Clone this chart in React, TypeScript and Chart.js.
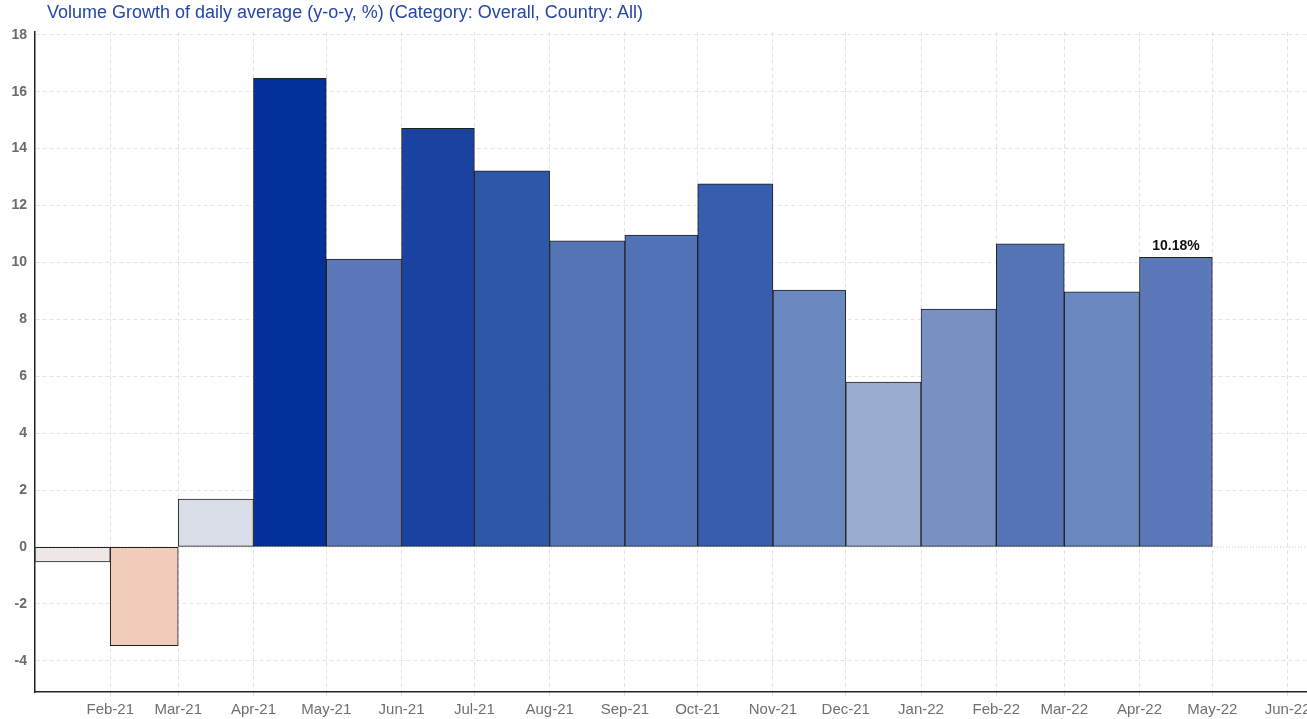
import React, { useEffect, useRef } from 'react';
import { Chart, registerables } from 'chart.js';

Chart.register(...registerables);

const TITLE = 'Volume Growth of daily average (y-o-y, %) (Category: Overall, Country: All)';

// Monthly bars (each bar spans its whole month)
const months = [
  '2021-01', '2021-02', '2021-03', '2021-04', '2021-05', '2021-06', '2021-07', '2021-08',
  '2021-09', '2021-10', '2021-11', '2021-12', '2022-01', '2022-02', '2022-03', '2022-04',
];
const growth = [
  -0.53, -3.47, 1.68, 16.47, 10.12, 14.71, 13.22, 10.76,
  10.96, 12.76, 9.03, 5.79, 8.36, 10.65, 8.97, 10.18,
];
const barColors = [
  '#efe7e6', '#f2ccba', '#d8dde7', '#023199', '#5b79b8', '#1a42a0', '#2e56a9', '#5574b6',
  '#5272b7', '#375dac', '#6a88c0', '#9aadd0', '#7891c2', '#5574b6', '#6a88c0', '#5b79b8',
];

const xTickLabels = [
  'Feb-21', 'Mar-21', 'Apr-21', 'May-21', 'Jun-21', 'Jul-21', 'Aug-21', 'Sep-21', 'Oct-21',
  'Nov-21', 'Dec-21', 'Jan-22', 'Feb-22', 'Mar-22', 'Apr-22', 'May-22', 'Jun-22',
];
const yTicks = [-4, -2, 0, 2, 4, 6, 8, 10, 12, 14, 16, 18];

const Y_MIN = -5.1;
const Y_MAX = 18.1;
const X_START = '2021-01-01';
const X_END = '2022-06-09';

const FONT = "'Liberation Sans', Arial, sans-serif";
const GRID = '#e3e3e3';

const MS_DAY = 86400000;
const ORIGIN = Date.UTC(2021, 0, 1);
const MON = ['Jan', 'Feb', 'Mar', 'Apr', 'May', 'Jun', 'Jul', 'Aug', 'Sep', 'Oct', 'Nov', 'Dec'];

function dayOf(y: number, m: number, d = 1) {
  return (Date.UTC(y, m - 1, d) - ORIGIN) / MS_DAY;
}
function dateDay(s: string) {
  const [y, m, d] = s.split('-').map(Number);
  return dayOf(y, m, d);
}
function monthStart(ym: string) {
  const [y, m] = ym.split('-').map(Number);
  return dayOf(y, m);
}
function monthEnd(ym: string) {
  const [y, m] = ym.split('-').map(Number);
  return dayOf(y, m + 1);
}
function labelDay(lbl: string) {
  const [mon, yy] = lbl.split('-');
  return dayOf(2000 + Number(yy), MON.indexOf(mon) + 1);
}

const X_MIN = dateDay(X_START);
const X_MAX = dateDay(X_END);

const valueLabelPlugin = {
  id: 'valueLabel',
  afterDatasetsDraw(chart: any) {
    const i = growth.length - 1;
    const meta = chart.getDatasetMeta(i);
    const el = meta && meta.data && meta.data[0];
    if (!el) return;
    const ctx = chart.ctx;
    ctx.save();
    ctx.font = `bold 14px ${FONT}`;
    ctx.fillStyle = '#111111';
    ctx.textAlign = 'center';
    ctx.textBaseline = 'middle';
    ctx.fillText(growth[i].toFixed(2) + '%', el.x, el.y - 11);
    ctx.restore();
  },
};

export default function App() {
  const canvasRef = useRef<HTMLCanvasElement | null>(null);

  useEffect(() => {
    if (!canvasRef.current) return;

    const barSets = months.map((ym, i) => {
      const s = monthStart(ym);
      const e = monthEnd(ym);
      return {
        type: 'bar',
        data: [{ x: (s + e) / 2, y: growth[i] }],
        backgroundColor: barColors[i],
        borderColor: '#202020',
        borderWidth: 1,
        borderSkipped: false,
        grouped: false,
        barThickness: (ctx: any) => {
          const xs = ctx.chart.scales.x;
          if (!xs) return 1;
          return xs.getPixelForValue(e) - xs.getPixelForValue(s);
        },
        order: 1,
      };
    });

    const zeroLine = {
      type: 'line',
      data: [{ x: X_MIN, y: 0 }, { x: X_MAX, y: 0 }],
      borderColor: '#c9c9c9',
      borderWidth: 1,
      borderDash: [1, 2],
      pointRadius: 0,
      order: 5,
    };

    const chart = new Chart(canvasRef.current, {
      type: 'bar',
      data: { datasets: [...barSets, zeroLine] as any },
      options: {
        animation: false,
        responsive: true,
        maintainAspectRatio: false,
        layout: { padding: { top: 32, left: 0, right: 0, bottom: 0 } },
        plugins: {
          legend: { display: false },
          tooltip: { enabled: false },
          title: { display: false },
        },
        scales: {
          x: {
            type: 'linear',
            min: X_MIN,
            max: X_MAX,
            offset: false,
            afterBuildTicks: (s: any) => {
              s.ticks = xTickLabels.map((l) => ({ value: labelDay(l) }));
            },
            afterFit: (s: any) => {
              s.height = 27;
              s.paddingLeft = 0;
              s.paddingRight = 0;
            },
            ticks: {
              autoSkip: false,
              maxRotation: 0,
              minRotation: 0,
              padding: 4,
              color: '#6f6f6f',
              font: { family: FONT, size: 15 },
              callback: (_v: any, idx: number) => xTickLabels[idx],
            },
            grid: {
              offset: false,
              color: GRID,
              lineWidth: 1,
              drawTicks: true,
              tickLength: 5,
              tickColor: GRID,
              tickBorderDash: [4, 3],
            },
            border: { display: true, color: '#222222', width: 1.5, dash: [4, 3] },
          },
          y: {
            type: 'linear',
            min: Y_MIN,
            max: Y_MAX,
            afterBuildTicks: (s: any) => {
              s.ticks = yTicks.map((v) => ({ value: v }));
            },
            afterFit: (s: any) => {
              s.width = 35;
            },
            ticks: {
              padding: 8,
              color: '#6d6a67',
              font: { family: FONT, size: 14, weight: 'bold' },
              callback: (v: any) => String(v),
            },
            grid: {
              color: (ctx: any) => (ctx.tick && ctx.tick.value === 0 ? 'rgba(0,0,0,0)' : GRID),
              lineWidth: 1,
              drawTicks: false,
            },
            border: { display: true, color: '#222222', width: 1.5, dash: [4, 3] },
          },
        },
      } as any,
      plugins: [valueLabelPlugin],
    });

    return () => chart.destroy();
  }, []);

  return (
    <div style={{ position: 'absolute', left: 0, top: 0, width: 1307, height: 719, background: '#ffffff' }}>
      <div
        style={{
          position: 'absolute',
          left: 47,
          top: 2,
          fontFamily: FONT,
          fontSize: 18,
          lineHeight: '21px',
          color: '#2446a6',
          whiteSpace: 'nowrap',
        }}
      >
        {TITLE}
      </div>
      <canvas ref={canvasRef} style={{ display: 'block', width: 1307, height: 719 }} />
    </div>
  );
}
